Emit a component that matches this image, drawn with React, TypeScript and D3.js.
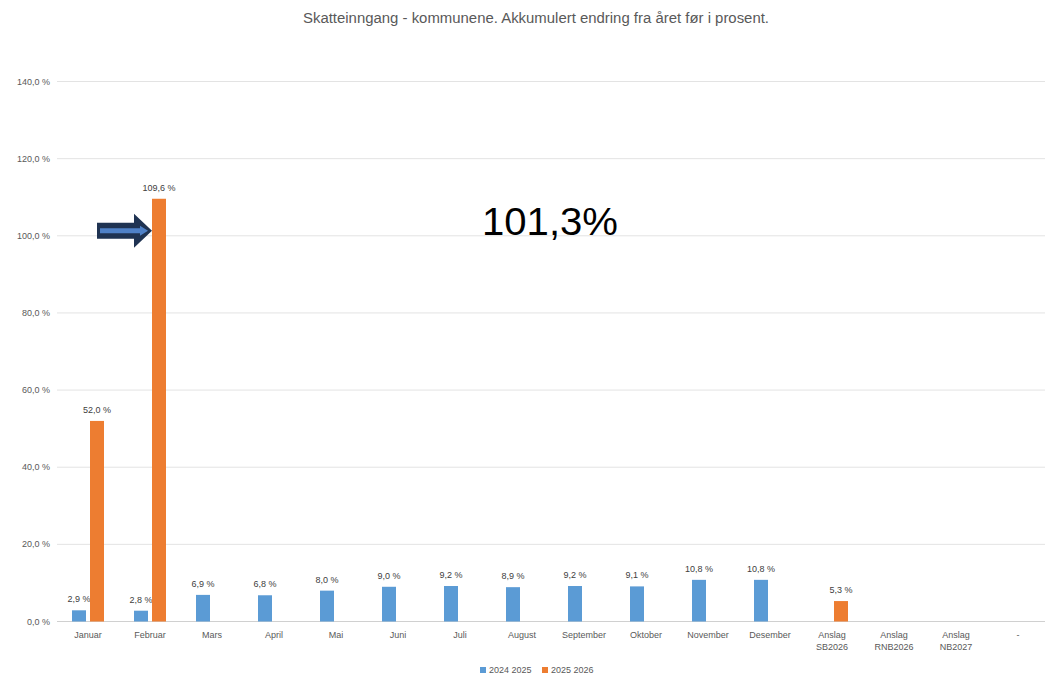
import React from "react";
import * as d3 from "d3";

const categories: string[][] = [
  ["Januar"], ["Februar"], ["Mars"], ["April"], ["Mai"], ["Juni"], ["Juli"], ["August"],
  ["September"], ["Oktober"], ["November"], ["Desember"], ["Anslag", "SB2026"],
  ["Anslag", "RNB2026"], ["Anslag", "NB2027"], ["-"],
];
const series2425: (number | null)[] = [2.9, 2.8, 6.9, 6.8, 8.0, 9.0, 9.2, 8.9, 9.2, 9.1, 10.8, 10.8, null, null, null, null];
const series2526: (number | null)[] = [52.0, 109.6, null, null, null, null, null, null, null, null, null, null, 5.3, null, null, null];
const yTicks: number[] = [0, 20, 40, 60, 80, 100, 120, 140];
const seriesNames: string[] = ["2024 2025", "2025 2026"];
const annotationValue = 101.3;
const title = "Skatteinngang - kommunene. Akkumulert endring fra året før i prosent.";

const W = 1045, H = 683;
const BLUE = "#5B9BD5", ORANGE = "#ED7D31";
const FONT = "'Liberation Sans', Arial, sans-serif";

const fmt = (v: number) => v.toFixed(1).replace(".", ",") + " %";

export default function App() {
  const keys = categories.map((c, i) => String(i));
  const x = d3.scaleBand<string>().domain(keys).range([57, 1049]).padding(0);
  const y = d3.scaleLinear().domain([0, 140]).range([621.5, 81.5]);
  const bw = 14, gap = 4;

  const bars: { key: string; v: number; color: string; x0: number; name: string }[] = [];
  series2425.forEach((v, i) => {
    if (v != null) bars.push({ key: "a" + i, v, color: BLUE, x0: x(String(i))! + x.bandwidth() / 2 - gap / 2 - bw, name: seriesNames[0] });
  });
  series2526.forEach((v, i) => {
    if (v != null) bars.push({ key: "b" + i, v, color: ORANGE, x0: x(String(i))! + x.bandwidth() / 2 + gap / 2, name: seriesNames[1] });
  });

  // Arrow pointing at the Februar orange bar, at the annotated value
  const tx = x("1")! + x.bandwidth() / 2 + gap / 2;
  const ty = y(annotationValue);
  const outer = `M${tx - 55},${ty - 8} L${tx - 18},${ty - 8} L${tx - 18},${ty - 17} L${tx},${ty} L${tx - 18},${ty + 17} L${tx - 18},${ty + 8} L${tx - 55},${ty + 8} Z`;
  const inner = `M${tx - 52},${ty - 2.5} L${tx - 12},${ty - 2.5} L${tx - 12},${ty - 5} L${tx - 4},${ty} L${tx - 12},${ty + 5} L${tx - 12},${ty + 2.5} L${tx - 52},${ty + 2.5} Z`;

  return (
    <svg width={W} height={H} style={{ position: "absolute", left: 0, top: 0, background: "#fff" }} fontFamily={FONT}>
      <text x={536} y={23} textAnchor="middle" fontSize={14} fill="#595959" textLength={466} lengthAdjust="spacingAndGlyphs">{title}</text>

      {yTicks.map((t) => (
        <g key={t}>
          <line x1={57} x2={W} y1={y(t)} y2={y(t)} stroke={t === 0 ? "#D0D0D0" : "#E3E3E3"} strokeWidth={1} />
          <text x={50} y={y(t) + 3} textAnchor="end" fontSize={9} fill="#595959">{fmt(t)}</text>
        </g>
      ))}

      {bars.map((b) => (
        <g key={b.key}>
          <rect x={b.x0} y={y(b.v)} width={bw} height={y(0) - y(b.v)} fill={b.color} />
          <text x={b.x0 + bw / 2} y={y(b.v) - 8} textAnchor="middle" fontSize={9} fill="#404040">{fmt(b.v)}</text>
        </g>
      ))}

      {categories.map((lines, i) => (
        <text key={i} x={x(String(i))! + x.bandwidth() / 2} y={638} textAnchor="middle" fontSize={9} fill="#595959">
          {lines.map((l, j) => (
            <tspan key={j} x={x(String(i))! + x.bandwidth() / 2} dy={j === 0 ? 0 : 12}>{l}</tspan>
          ))}
        </text>
      ))}

      <path d={outer} fill="#1F3352" />
      <path d={inner} fill="#4F81C7" />

      <text x={482} y={235} fontSize={38} fill="#000" textLength={136} lengthAdjust="spacingAndGlyphs">101,3%</text>

      <g>
        <rect x={480} y={667} width={6} height={6} fill={BLUE} />
        <text x={489} y={673} fontSize={9} fill="#595959">{seriesNames[0]}</text>
        <rect x={542} y={667} width={6} height={6} fill={ORANGE} />
        <text x={551} y={673} fontSize={9} fill="#595959">{seriesNames[1]}</text>
      </g>
    </svg>
  );
}
